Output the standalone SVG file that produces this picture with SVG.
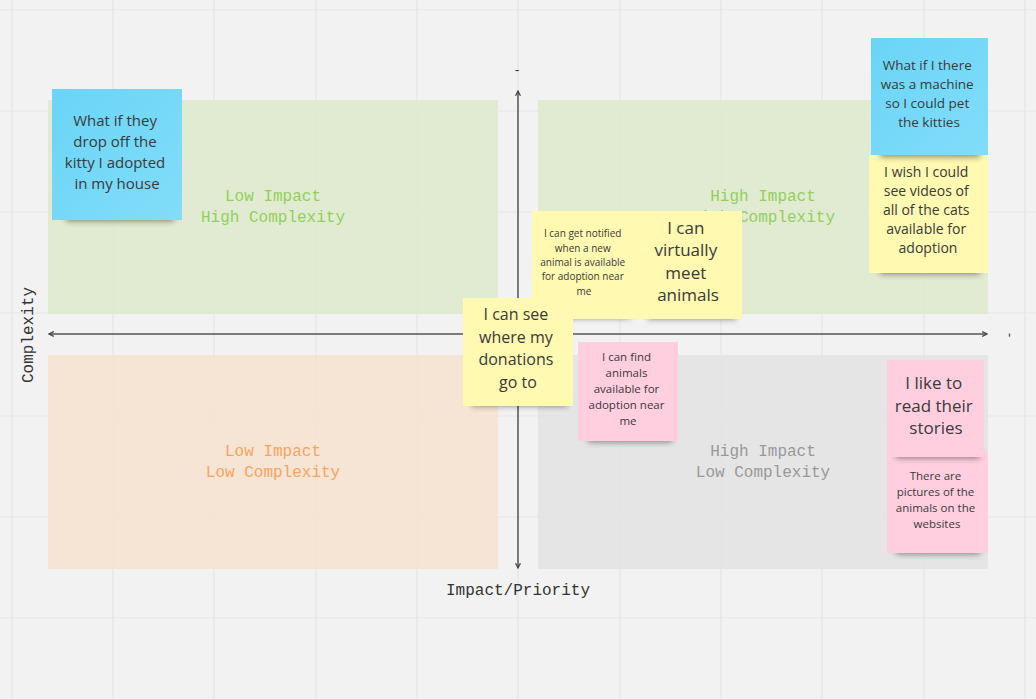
<svg xmlns="http://www.w3.org/2000/svg" width="1036" height="699" viewBox="0 0 1036 699">
<defs>
<style>
.grid{stroke:#e5e5e5;stroke-width:1.2}
.ql{font-family:"Liberation Mono","DejaVu Sans Mono",monospace;font-size:16px;text-anchor:middle}
.ax{stroke:#555;stroke-width:1.5;fill:none}
.st{font-family:"Open Sans","Noto Sans",sans-serif;fill:#3a3a3a;text-anchor:middle}
.yel{fill:#fff9b1}
.pnk{fill:#ffcfe0}
.blu{fill:url(#bg)}
.sh{fill:#000;opacity:0.45;filter:url(#blur)}
</style>
<linearGradient id="bg" x1="0" y1="0" x2="1" y2="1">
<stop offset="0" stop-color="#6ad4f7"/>
<stop offset="1" stop-color="#82ddf9"/>
</linearGradient>
<filter id="blur" x="-20%" y="-200%" width="140%" height="500%">
<feGaussianBlur stdDeviation="3"/>
</filter>
<marker id="arr" viewBox="0 0 10 10" refX="9" refY="5" markerWidth="6" markerHeight="6" orient="auto-start-reverse" markerUnits="userSpaceOnUse">
<path d="M1,1 L9,5 L1,9" fill="none" stroke="#444" stroke-width="2"/>
</marker>
</defs>
<rect width="1036" height="699" fill="#f2f2f2"/>
<g id="grid">
<path class="grid" d="M12,0V699M113,0V699M214,0V699M316,0V699M417,0V699M518,0V699M620,0V699M721,0V699M822,0V699M924,0V699M1025,0V699M0,10H1036M0,111H1036M0,212H1036M0,313H1036M0,416H1036M0,517H1036M0,618H1036"/>
</g>
<g id="quadrants">
<rect x="48" y="100" width="450" height="214" fill="#dfeacf" opacity="0.95"/>
<rect x="538" y="100" width="450" height="214" fill="#dfeacf" opacity="0.95"/>
<rect x="48" y="355" width="450" height="214" fill="#f5e3d3" opacity="0.95"/>
<rect x="538" y="355" width="450" height="214" fill="#e4e4e4" opacity="0.95"/>
<text class="ql" fill="#93cf5d" x="273" y="201">Low Impact</text>
<text class="ql" fill="#93cf5d" x="273" y="222">High Complexity</text>
<text class="ql" fill="#93cf5d" x="763" y="201">High Impact</text>
<text class="ql" fill="#93cf5d" x="763" y="222">High Complexity</text>
<text class="ql" fill="#f7a55f" x="273" y="456">Low Impact</text>
<text class="ql" fill="#f7a55f" x="273" y="477">Low Complexity</text>
<text class="ql" fill="#999999" x="763" y="456">High Impact</text>
<text class="ql" fill="#999999" x="763" y="477">Low Complexity</text>
</g>
<g id="connectors">
<line class="ax" x1="49" y1="334" x2="987" y2="334" marker-start="url(#arr)" marker-end="url(#arr)"/>
<line class="ax" x1="518" y1="91" x2="518" y2="568" marker-start="url(#arr)" marker-end="url(#arr)"/>
</g>
<g id="axis-labels">
<text class="ql" fill="#333" x="518" y="595">Impact/Priority</text>
<text class="ql" fill="#333" transform="translate(33,335) rotate(-90)">Complexity</text>
<text x="517" y="74" font-family="Liberation Mono,monospace" font-size="12" fill="#333" text-anchor="middle">-</text>
<text transform="translate(1006,335) rotate(90)" font-family="Liberation Mono,monospace" font-size="12" fill="#333" text-anchor="middle">-</text>
</g>
<g id="note-notified">
<rect class="sh" x="540" y="310" width="90" height="8"/>
<rect class="yel" x="532" y="211" width="104" height="108"/>
<text class="st" font-size="10">
<tspan x="584" y="237">I can get notified</tspan>
<tspan x="584" y="252">when a new</tspan>
<tspan x="584" y="266">animal is available</tspan>
<tspan x="584" y="280">for adoption near</tspan>
<tspan x="584" y="295">me</tspan>
</text>
</g>
<g id="note-virtually">
<rect class="sh" x="648" y="311" width="88" height="8"/>
<rect class="yel" x="636" y="211" width="106" height="108"/>
<text class="st" font-size="17">
<tspan x="688" y="234">I can</tspan>
<tspan x="688" y="256">virtually</tspan>
<tspan x="688" y="279">meet</tspan>
<tspan x="688" y="301">animals</tspan>
</text>
</g>
<g id="note-donations">
<rect class="sh" x="472" y="398" width="96" height="8"/>
<rect class="yel" x="463" y="298" width="110" height="108"/>
<text class="st" font-size="16">
<tspan x="518" y="320">I can see</tspan>
<tspan x="518" y="343">where my</tspan>
<tspan x="518" y="365">donations</tspan>
<tspan x="518" y="388">go to</tspan>
</text>
</g>
<g id="note-find">
<rect class="sh" x="588" y="434" width="84" height="8"/>
<rect class="pnk" x="578" y="342" width="100" height="99"/>
<text class="st" font-size="11.5">
<tspan x="628" y="361">I can find</tspan>
<tspan x="628" y="377">animals</tspan>
<tspan x="628" y="393">available for</tspan>
<tspan x="628" y="409">adoption near</tspan>
<tspan x="628" y="425">me</tspan>
</text>
</g>
<g id="note-pictures">
<rect class="sh" x="896" y="546" width="84" height="8"/>
<rect class="pnk" x="887" y="453" width="101" height="100"/>
<text class="st" font-size="11.5">
<tspan x="937" y="480">There are</tspan>
<tspan x="937" y="496">pictures of the</tspan>
<tspan x="937" y="512">animals on the</tspan>
<tspan x="937" y="528">websites</tspan>
</text>
</g>
<g id="note-stories">
<rect class="sh" x="896" y="450" width="84" height="8"/>
<rect class="pnk" x="887" y="360" width="97" height="97"/>
<text class="st" font-size="17">
<tspan x="936" y="389">I like to</tspan>
<tspan x="936" y="412">read their</tspan>
<tspan x="936" y="434">stories</tspan>
</text>
</g>
<g id="note-videos">
<rect class="sh" x="880" y="266" width="100" height="8"/>
<rect class="yel" x="869" y="155" width="119" height="118"/>
<text class="st" font-size="14">
<tspan x="928" y="177">I wish I could</tspan>
<tspan x="928" y="196">see videos of</tspan>
<tspan x="928" y="215">all of the cats</tspan>
<tspan x="928" y="234">available for</tspan>
<tspan x="928" y="253">adoption</tspan>
</text>
</g>
<g id="note-machine">
<rect class="sh" x="880" y="149" width="100" height="8"/>
<rect class="blu" x="871" y="38" width="117" height="117"/>
<text class="st" font-size="13.5">
<tspan x="929" y="70">What if I there</tspan>
<tspan x="929" y="89">was a machine</tspan>
<tspan x="929" y="108">so I could pet</tspan>
<tspan x="929" y="127">the kitties</tspan>
</text>
</g>
<g id="note-dropoff">
<rect class="sh" x="66" y="212" width="108" height="9"/>
<rect class="blu" x="52" y="89" width="130" height="131"/>
<text class="st" font-size="15">
<tspan x="117" y="126">What if they</tspan>
<tspan x="117" y="147">drop off the</tspan>
<tspan x="117" y="168">kitty I adopted</tspan>
<tspan x="117" y="189">in my house</tspan>
</text>
</g>
</svg>
